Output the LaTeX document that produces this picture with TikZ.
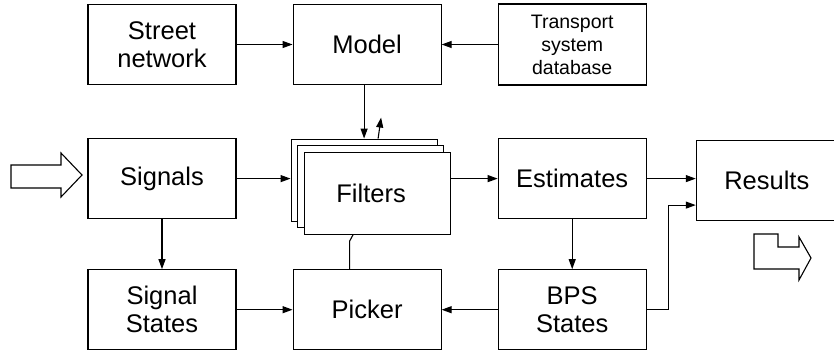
\documentclass[tikz,border=0pt]{standalone}
\usepackage{fontspec}
\setmainfont{Liberation Sans}
\usetikzlibrary{calc,arrows.meta,positioning}
\tikzset{block/.style={draw, line width=1.1pt, rectangle, minimum width=148pt, minimum height=80pt, inner sep=2pt, align=center, fill=white, font=\fontsize{25.5}{28}\selectfont},
  link/.style={line width=1.1pt, -{Triangle[length=10pt,width=7pt]}},
  wire/.style={line width=1.1pt}}

\begin{document}
\begin{tikzpicture}[x=1pt,y=-1pt]
    \useasboundingbox (0,0) rectangle (834,354);
    \node[block] (street) at (162,44.5) {Street\\network};
    \node[block,right=56pt of street] (model) {Model};
    \node[block,right=56pt of model,font=\fontsize{19.5}{23}\selectfont,minimum height=81pt] (transport) {Transport\\system\\database};
    \node[block,below=53pt of street] (signals) {Signals};
    \node[block,below=50pt of signals] (sigstates) {Signal\\States};
    \node[block,right=56pt of sigstates] (picker) {Picker};
    \node[block,right=56pt of picker] (bps) {BPS\\States};
    \node[block,above=50pt of bps] (estimates) {Estimates};
    \node[block,right=49pt of estimates,minimum width=145pt,yshift=-2pt] (results) {\hspace*{-4pt}Results};
    % stacked filters
    \node[block,right=54pt of signals,minimum width=146pt,minimum height=82pt,yshift=-1.5pt] (filtersback) {};
    \node[block,minimum width=146pt,minimum height=82pt] (filtersmid) at ($(filtersback)+(6.5,6.5)$) {};
    \node[block,minimum width=146pt,minimum height=82pt] (filters) at ($(filtersback)+(13,13)$) {\hspace*{-12pt}Filters};

    \draw[link] (street) -- (model);
    \draw[link] (transport) -- (model);
    \draw[link] (model.south -| filtersback.north) -- (filtersback.north);
    \draw[link] ([xshift=14pt]filtersback.north) -- ++(3,-21);
    \draw[link] (signals.east) -- (signals.east -| filtersback.west);
    \draw[link] (filters.east |- signals.east) -- (estimates.west);
    \draw[link] (estimates.east) -- (results.west |- estimates.east);
    \draw[link] (signals) -- (sigstates);
    \draw[link] (estimates) -- (bps);
    \draw[link] (sigstates) -- (picker);
    \draw[link] (bps) -- (picker);
    \draw[wire] ([xshift=-17.5pt]picker.north) -- ++(0,-28) -- ([xshift=-24pt]filters.south);
    \coordinate (bend) at ($(bps.east)+(22,0)$);
    \draw[link] (bps.east) -- (bend) -- (bend |- {$(results.west)+(0,24.5)$}) -- ($(results.west)+(0,24.5)$);

    % input and output arrows
    \draw[wire] (11,165) -- (61,165) -- (61,153) -- (82,175) -- (61,197) -- (61,188) -- (11,188) -- cycle;
    \draw[wire] (754,234) -- (778,234) -- (778,247) -- (799,247) -- (799,237) -- (811,258) -- (799,280) -- (799,269) -- (754,269) -- cycle;
\end{tikzpicture}
\end{document}
